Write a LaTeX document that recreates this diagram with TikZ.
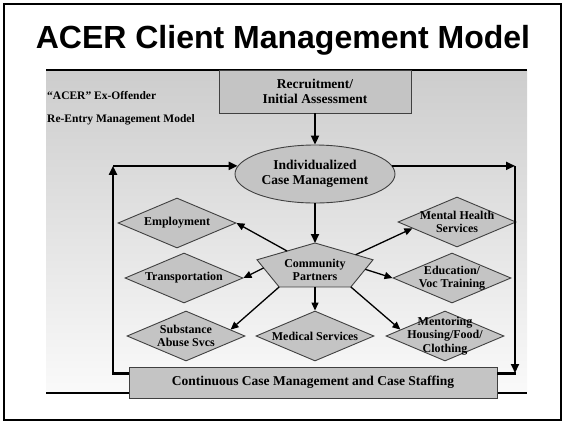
\documentclass[tikz,border=0pt]{standalone}
\usepackage{fontspec}
\setmainfont{Liberation Serif}
\newfontfamily\titlefont{Liberation Sans}
\usetikzlibrary{arrows.meta, calc, shapes.geometric}

\definecolor{shapegray}{RGB}{196,196,196}
\definecolor{panetop}{RGB}{205,205,205}
\definecolor{panebottom}{RGB}{250,250,250}

\tikzset{
  big/.style     = {font=\fontsize{13.5}{15.5}\selectfont\bfseries, align=center},
  small/.style   = {font=\fontsize{12}{13.5}\selectfont\bfseries, align=center},
  note/.style    = {font=\fontsize{11.5}{13}\selectfont\bfseries, anchor=west, inner sep=0pt},
  box/.style     = {rectangle, draw=black!75, fill=shapegray, line width=0.9pt, inner sep=0pt},
  service/.style = {diamond, draw=black!75, fill=shapegray, line width=0.9pt,
                    minimum width=118pt, minimum height=50pt, inner sep=0pt},
  link/.style    = {-{Triangle[length=8pt,width=7pt]}, line width=1.3pt},
  flow/.style    = {-{Triangle[length=9pt,width=8pt]}, line width=2pt},
}

\begin{document}
\begin{tikzpicture}[x=1pt, y=-1pt]
  \useasboundingbox (0,0) rectangle (565,424);
  \draw[line width=2.5pt] (4,4) rectangle (561,420);
  \node[font=\titlefont\fontsize{32}{36}\selectfont\bfseries] (title) at (283,40)
    {ACER Client Management Model};

  % chart pane
  \shade[top color=panetop, bottom color=panebottom] (46,70) rectangle (527,393);
  \draw[line width=2pt] (46,70) -- (527,70);
  \draw[line width=1.2pt] (46,393) -- (527,393);
  \node[note] (acer) at (47,96) {“ACER” Ex-Offender};
  \node[note] (model) at (47,119.5) {Re-Entry Management Model};

  \node[box, big, minimum width=192pt, minimum height=43pt] (recruit) at (315,91.5)
    {Recruitment/\\Initial Assessment};
  \node[ellipse, draw=black!75, fill=shapegray, line width=0.9pt, big,
        minimum width=160pt, minimum height=58pt, inner sep=0pt] (casemgmt) at (315,174)
    {Individualized\\Case Management};
  \begin{scope}[shift={(315,267.3)}]
    \node[regular polygon, regular polygon sides=5, draw=black!75, fill=shapegray,
          line width=0.9pt, minimum size=48.6pt, inner sep=0pt, outer sep=0pt,
          xscale=2.51, transform shape] (partners) at (0,0) {};
  \end{scope}
  \node[small] (partnerstext) at (315,270) {Community\\Partners};

  % services
  \node[service, label={[small]center:Employment}] (employment) at (177,223) {};
  \node[service, label={[small]center:Transportation}] (transport) at (184,278) {};
  \node[service, label={[small]center:{Substance\\Abuse Svcs}}] (substance) at (186,336) {};
  \node[service, label={[small]center:{Medical Services}}] (medical) at (315,336) {};
  \node[service, label={[small]center:{Mentoring\\Housing/Food/\\Clothing}}] (mentoring) at (445,336) {};
  \node[service, label={[small]center:{Mental Health\\Services}}] (mental) at (457,222) {};
  \node[service, label={[small]center:{Education/\\Voc Training}}] (education) at (452,278) {};

  \node[box, big, minimum width=368pt, minimum height=31pt] (staffing) at (313,382.5)
    {Continuous Case Management and Case Staffing};

  \draw[flow] (recruit) -- (casemgmt);
  \draw[flow] (casemgmt) -- (partners);

  \path[link] ($(partners.corner 1)!0.48!(partners.corner 2)$) edge (employment.east)
              ($(partners.corner 2)!0.3!(partners.corner 3)$) edge (transport.east)
              (partners.corner 3) edge ($(substance.north)!0.75!(substance.east)$)
              (partners.south) edge (medical.north)
              (partners.corner 4) edge ($(mentoring.north)!0.75!(mentoring.west)$)
              ($(partners.corner 5)!0.35!(partners.corner 4)$) edge (education.west)
              ($(partners.corner 1)!0.7!(partners.corner 5)$) edge ($(mental.west)!0.25!(mental.south)$);

  % case staffing loop
  \coordinate (loopLB) at (113,373);
  \coordinate (loopLT) at (113,0 |- casemgmt.174);
  \coordinate (loopRT) at (515,0 |- casemgmt.6);
  \coordinate (loopRB) at (515,373);
  \draw[line width=3pt] (staffing.west |- loopLB) -- ([xshift=-1pt]loopLB);
  \draw[flow] (loopLB) -- (loopLT);
  \draw[flow] (loopLT) -- (casemgmt.174);
  \draw[flow] (casemgmt.6) -- (loopRT);
  \draw[flow] (loopRT) -- (loopRB);
  \draw[line width=3pt] (staffing.east |- loopRB) -- ([xshift=1pt]loopRB);
\end{tikzpicture}
\end{document}
